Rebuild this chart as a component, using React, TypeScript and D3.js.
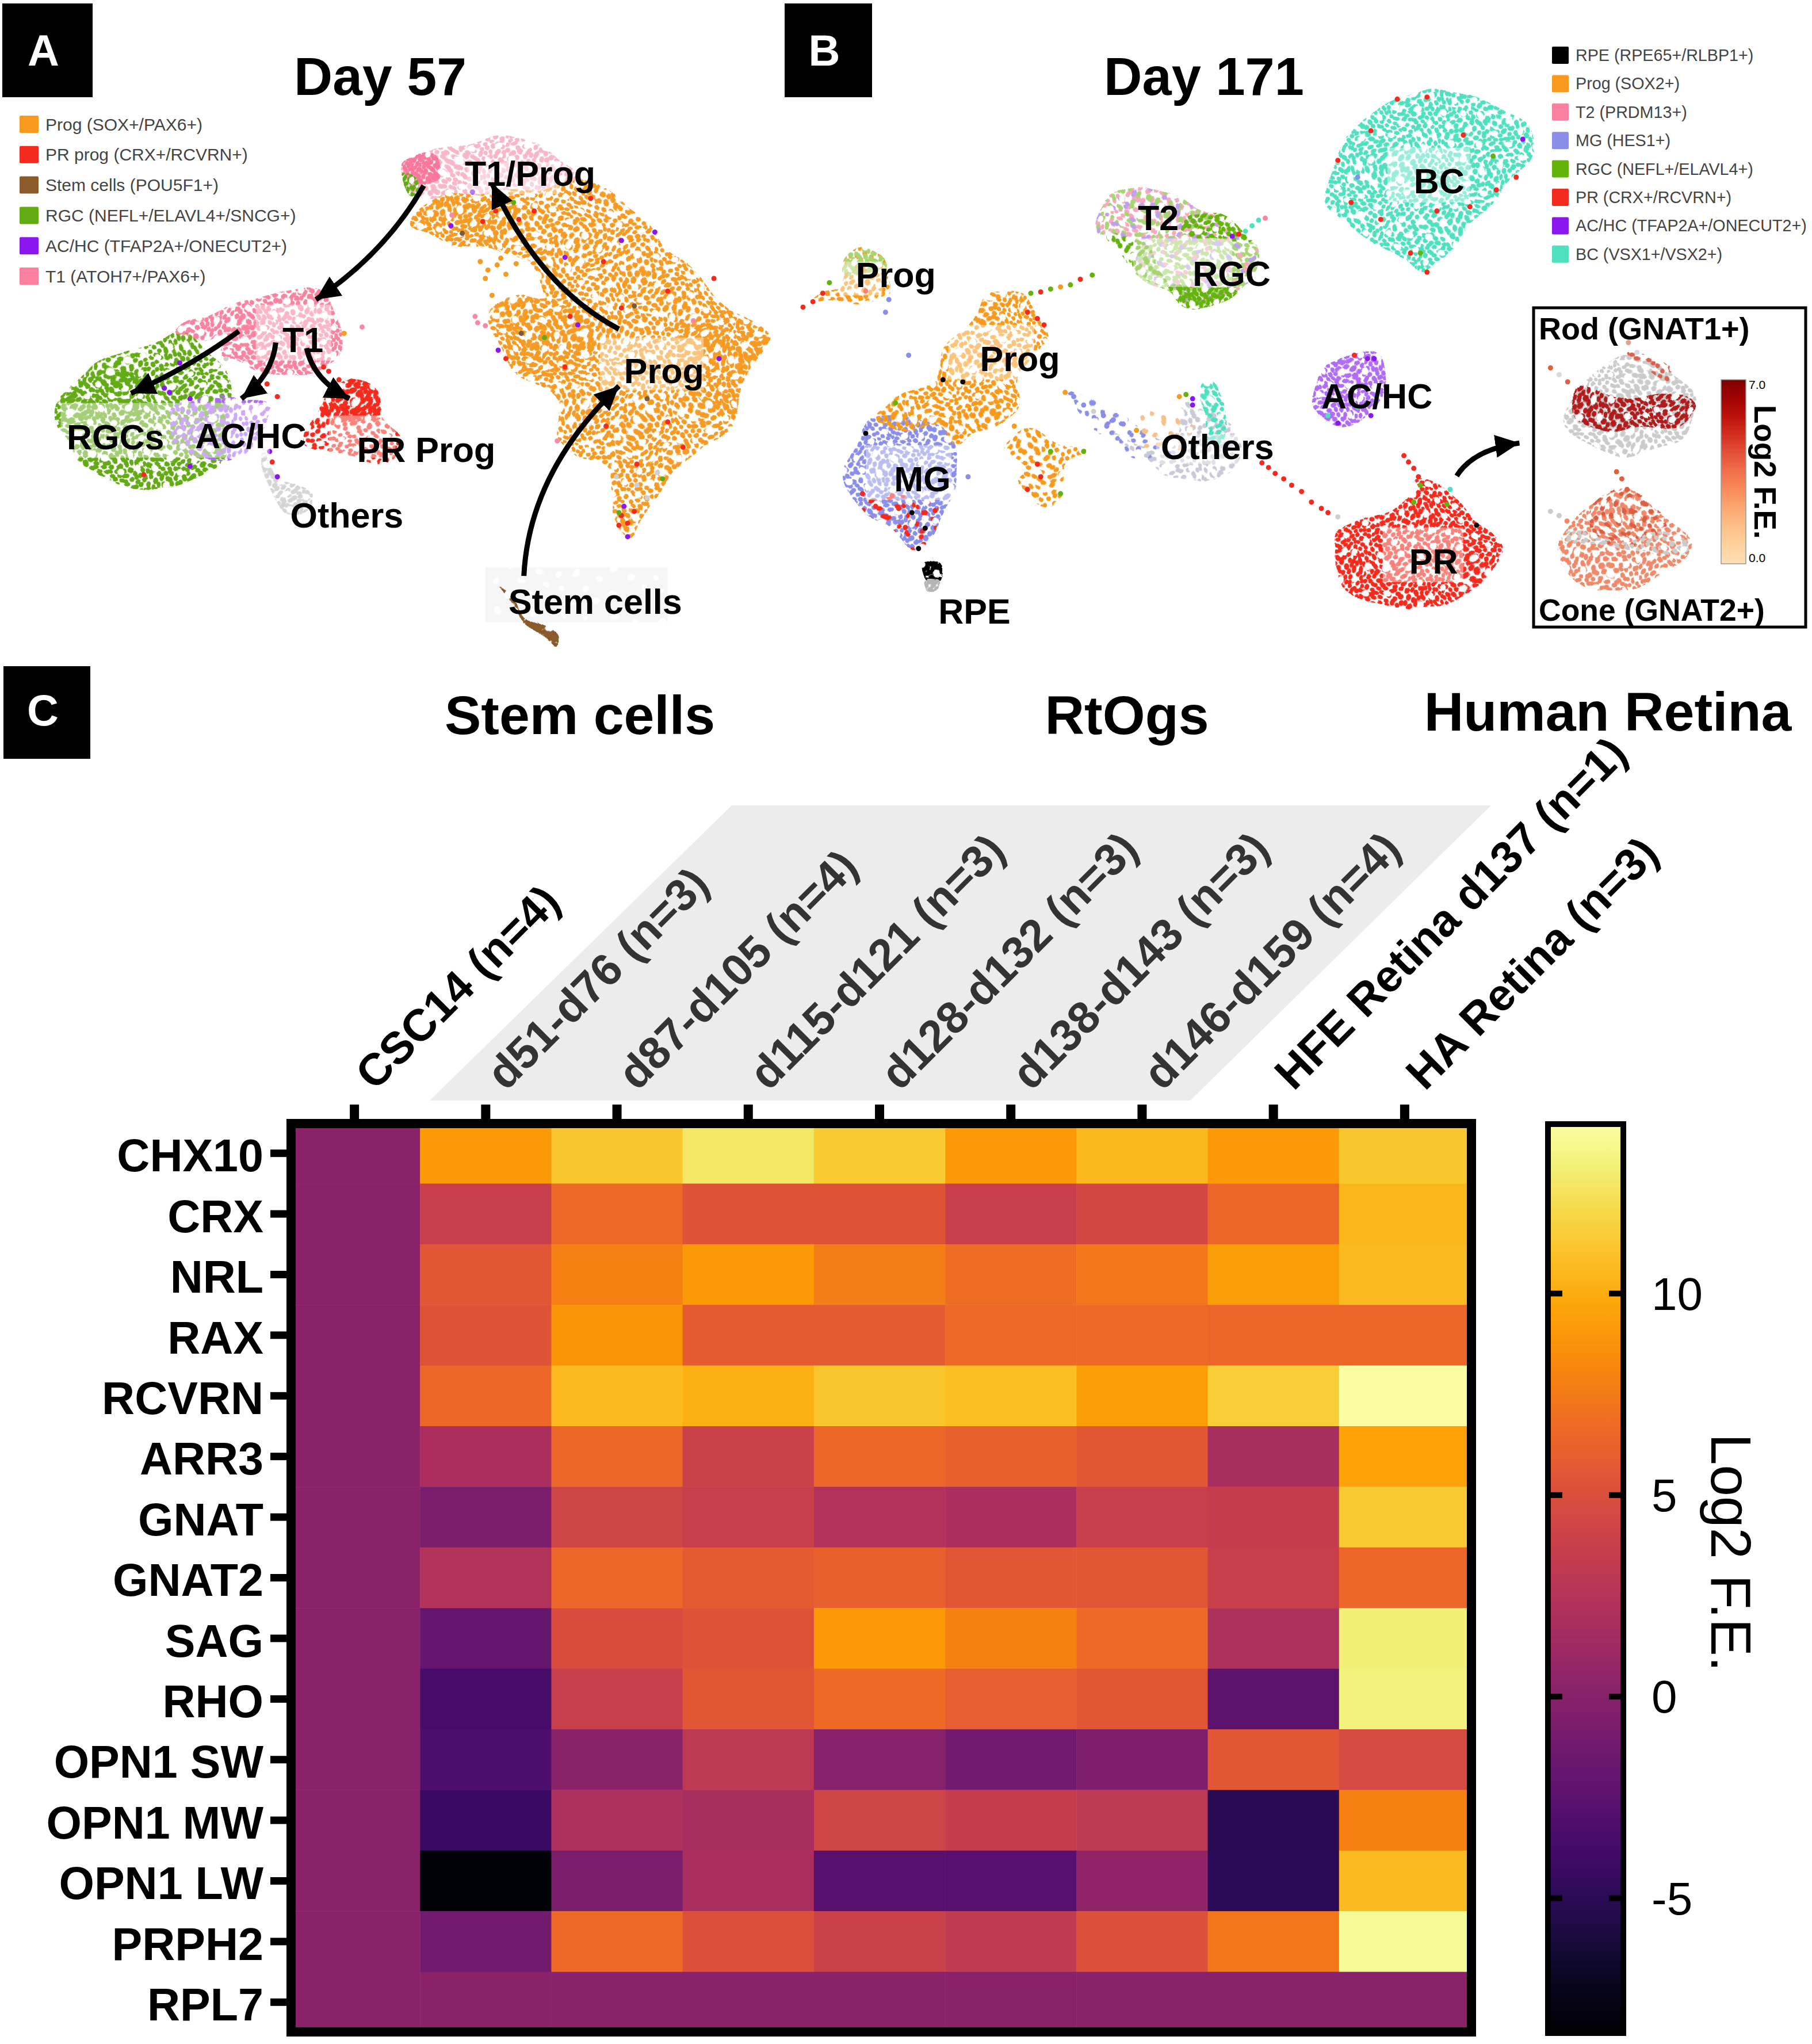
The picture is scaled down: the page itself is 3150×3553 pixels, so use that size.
import React, { useEffect, useRef } from 'react';
import * as d3 from 'd3';

type Pt = [number, number];

// heatmap values, Log2 F.E.
const samples = ['CSC14 (n=4)', 'd51-d76 (n=3)', 'd87-d105 (n=4)', 'd115-d121 (n=3)', 'd128-d132 (n=3)', 'd138-d143 (n=3)', 'd146-d159 (n=4)', 'HFE Retina d137 (n=1)', 'HA Retina (n=3)'];
const genes = ['CHX10', 'CRX', 'NRL', 'RAX', 'RCVRN', 'ARR3', 'GNAT', 'GNAT2', 'SAG', 'RHO', 'OPN1 SW', 'OPN1 MW', 'OPN1 LW', 'PRPH2', 'RPL7'];
const chx10 = [0, 9.0, 11.0, 12.6, 11.2, 9.0, 10.4, 9.0, 11.0];
const crx = [0, 3.6, 6.5, 5.1, 5.1, 3.6, 4.3, 6.3, 10.3];
const nrl = [0, 5.4, 7.8, 9.0, 7.6, 6.7, 7.2, 9.2, 10.5];
const rax = [0, 5.1, 8.7, 5.6, 5.6, 6.5, 6.5, 6.3, 6.3];
const rcvrn = [0, 6.3, 10.5, 10.1, 11.0, 10.7, 9.2, 11.4, 14.0];
const arr3 = [0, 1.8, 6.3, 3.8, 6.3, 6.0, 5.4, 1.6, 9.4];
const gnat = [0, -0.9, 4.0, 3.6, 2.2, 1.8, 3.6, 3.3, 11.2];
const gnat2 = [0, 2.2, 6.3, 5.6, 6.0, 5.4, 5.4, 3.6, 6.3];
const sag = [0, -2.2, 4.7, 5.1, 9.0, 7.8, 6.5, 2.0, 13.0];
const rho = [0, -3.8, 3.6, 5.4, 6.5, 5.8, 5.4, -2.5, 13.2];
const opn1sw = [0, -3.4, 0.0, 2.9, -0.2, -1.4, -0.7, 5.4, 4.5];
const opn1mw = [0, -4.5, 2.0, 1.6, 4.0, 3.3, 2.9, -5.4, 7.8];
const opn1lw = [0, -8.3, -0.9, 1.8, -2.9, -2.9, 0.2, -5.2, 10.5];
const prph2 = [0, -1.4, 6.5, 4.9, 3.8, 3.1, 4.9, 7.2, 13.7];
const rpl7 = [0, 0, 0, 0, 0, 0, 0, 0, 0];
const heat = [chx10, crx, nrl, rax, rcvrn, arr3, gnat, gnat2, sag, rho, opn1sw, opn1mw, opn1lw, prph2, rpl7];
const colorTicks = [-5, 0, 5, 10];

const legendA = ['Prog (SOX+/PAX6+)', 'PR prog (CRX+/RCVRN+)', 'Stem cells (POU5F1+)', 'RGC (NEFL+/ELAVL4+/SNCG+)', 'AC/HC (TFAP2A+/ONECUT2+)', 'T1 (ATOH7+/PAX6+)'];
const legendB = ['RPE (RPE65+/RLBP1+)', 'Prog (SOX2+)', 'T2 (PRDM13+)', 'MG (HES1+)', 'RGC (NEFL+/ELAVL4+)', 'PR (CRX+/RCVRN+)', 'AC/HC (TFAP2A+/ONECUT2+)', 'BC (VSX1+/VSX2+)'];
const legendAColors = ['#f79a1e', '#f42a1e', '#8b5a2b', '#63ab12', '#8a16f0', '#fb7f9f'];
const legendBColors = ['#000000', '#f79a1e', '#fb7f9f', '#8a8ee8', '#63b30a', '#f42a1e', '#8a16f0', '#4fe0c0'];

// cluster outlines on the two UMAPs (estimated by eye, in umap axis units)
const progOutlineA: Pt[] = [[795, 530], [830, 480], [900, 455], [1050, 445], [1150, 425], [1230, 500], [1300, 590], [1370, 660], [1430, 740], [1498, 800], [1460, 860], [1440, 960], [1400, 1040], [1340, 1085], [1290, 1160], [1240, 1240], [1220, 1270], [1195, 1230], [1185, 1110], [1120, 1080], [1080, 1040], [1080, 960], [1020, 900], [965, 820], [960, 730], [1010, 705], [1060, 700], [1040, 640], [1000, 600], [960, 590], [890, 585], [840, 560]];
const progDenseUpperA: Pt[] = [[795, 530], [840, 480], [960, 460], [1010, 500], [990, 550], [930, 590], [850, 560]];
const progDenseLowerA: Pt[] = [[965, 790], [985, 730], [1060, 705], [1130, 760], [1160, 830], [1100, 900], [1020, 880]];
const progDenseRightA: Pt[] = [[1330, 760], [1420, 730], [1495, 800], [1450, 880], [1430, 980], [1370, 960]];
const t1CapA: Pt[] = [[778, 385], [830, 368], [900, 345], [980, 322], [1040, 345], [1090, 385], [1140, 425], [1050, 445], [900, 455], [830, 470], [790, 445]];
const t1DenseA: Pt[] = [[778, 385], [830, 365], [860, 380], [855, 430], [820, 440], [790, 420]];
const rgcCapA: Pt[] = [[780, 410], [815, 425], [820, 455], [800, 465], [785, 440]];
const t1A: Pt[] = [[345, 795], [400, 750], [490, 715], [590, 685], [640, 700], [668, 790], [660, 850], [590, 880], [530, 890], [470, 860], [440, 840], [450, 790], [400, 805]];
const rgcA: Pt[] = [[120, 940], [170, 880], [260, 830], [340, 795], [400, 815], [440, 880], [435, 1000], [430, 1090], [380, 1140], [290, 1160], [200, 1130], [140, 1060], [115, 990]];
const rgcDenseA: Pt[] = [[120, 940], [170, 890], [250, 880], [310, 940], [300, 990], [120, 990]];
const rgcBottomA: Pt[] = [[140, 1060], [340, 1070], [425, 1095], [380, 1140], [290, 1160], [200, 1130]];
const acA: Pt[] = [[335, 960], [450, 950], [525, 960], [505, 1040], [470, 1080], [400, 1085], [340, 1050]];
const prTopA: Pt[] = [[620, 970], [680, 905], [720, 925], [745, 985], [640, 985]];
const prA: Pt[] = [[620, 970], [680, 905], [720, 925], [745, 980], [780, 1030], [770, 1085], [700, 1090], [640, 1070], [598, 1040]];
const othersA: Pt[] = [[510, 1060], [540, 1130], [605, 1170], [600, 1210], [560, 1218], [540, 1180], [515, 1110]];
const stemA: Pt[] = [[977, 1395], [1000, 1418], [1025, 1462], [1055, 1484], [1080, 1505], [1080, 1530], [1060, 1510], [1030, 1480], [1005, 1440]];

const bcB: Pt[] = [[830, 450], [850, 350], [900, 270], [950, 225], [1040, 215], [1100, 260], [1145, 310], [1130, 400], [1090, 470], [1040, 550], [985, 650], [950, 620], [880, 550], [830, 490]];
const t2B: Pt[] = [[480, 550], [495, 480], [520, 445], [600, 470], [660, 510], [690, 550], [660, 590], [560, 570]];
const rgcLightB: Pt[] = [[560, 570], [690, 555], [722, 575], [720, 640], [690, 700], [630, 720], [590, 700], [550, 640]];
const rgcDarkB: Pt[] = [[590, 690], [700, 690], [690, 712], [630, 728], [600, 712]];
const rgcDarkTopB: Pt[] = [[625, 510], [670, 510], [715, 560], [640, 570], [615, 545]];
const rgcDarkSideB: Pt[] = [[500, 565], [560, 575], [590, 690], [560, 660], [530, 610]];
const progSmallB: Pt[] = [[95, 610], [125, 585], [160, 605], [165, 650], [172, 705], [140, 715], [90, 712], [60, 720], [75, 690], [100, 670]];
const progSmallTopB: Pt[] = [[95, 610], [125, 585], [160, 605], [162, 640], [100, 640]];
const progBigB: Pt[] = [[320, 695], [350, 685], [385, 700], [405, 760], [415, 800], [370, 880], [365, 960], [350, 990], [300, 1020], [270, 1055], [250, 1010], [180, 1010], [150, 985], [230, 900], [260, 820], [300, 750]];
const progLobeB: Pt[] = [[345, 1060], [390, 1020], [430, 1050], [475, 1075], [430, 1100], [430, 1180], [400, 1192], [370, 1150], [382, 1110]];
const mgB: Pt[] = [[150, 985], [250, 1010], [270, 1060], [260, 1200], [240, 1262], [210, 1300], [170, 1250], [120, 1190], [100, 1130], [120, 1050]];
const mgBottomB: Pt[] = [[125, 1190], [245, 1190], [240, 1262], [210, 1300], [170, 1250]];
const rpeB: Pt[] = [[222, 1330], [250, 1338], [248, 1372], [228, 1370]];
const rpeGreyB: Pt[] = [[226, 1370], [245, 1372], [242, 1395], [230, 1395]];
const othersChainB: Pt[] = [[440, 930], [470, 940], [560, 1020], [595, 1060], [560, 1095], [500, 1040]];
const othersBodyB: Pt[] = [[510, 1030], [590, 1060], [620, 960], [680, 1000], [700, 1095], [650, 1138], [590, 1130], [560, 1090]];
const othersTopB: Pt[] = [[545, 985], [610, 980], [640, 1040], [560, 1060]];
const othersTealB: Pt[] = [[650, 912], [670, 912], [672, 1060], [655, 1050]];
const prB: Pt[] = [[850, 1250], [920, 1210], [970, 1170], [965, 1140], [1020, 1160], [1060, 1230], [1100, 1305], [1060, 1390], [1000, 1440], [900, 1430], [850, 1370], [845, 1300]];
const acB: Pt[] = [[810, 950], [830, 870], [870, 840], [915, 850], [920, 960], [880, 1000], [840, 1010]];

// feature plots inside the inset box
const rodBodyB: Pt[] = [[1200, 950], [1250, 870], [1290, 840], [1340, 870], [1392, 960], [1370, 1040], [1290, 1075], [1220, 1050], [1195, 1000]];
const rodBandB: Pt[] = [[1205, 925], [1280, 950], [1340, 925], [1392, 965], [1380, 995], [1290, 1020], [1210, 985]];
const rodTipB: Pt[] = [[1295, 835], [1315, 835], [1360, 885], [1345, 900]];
const coneBodyB: Pt[] = [[1190, 1270], [1230, 1200], [1290, 1165], [1340, 1210], [1385, 1295], [1340, 1370], [1270, 1402], [1210, 1380], [1185, 1320]];
const coneDarkB: Pt[] = [[1240, 1190], [1290, 1165], [1345, 1215], [1350, 1270], [1280, 1300], [1240, 1280]];
const coneGreyB: Pt[] = [[1190, 1265], [1280, 1280], [1350, 1260], [1385, 1295], [1360, 1320], [1270, 1300], [1195, 1290]];

type Layer = { pts: Pt[]; color: string; f?: number };
const layersA: Layer[] = [
  { pts: progOutlineA, color: '#f59a23', f: 1.0 },
  { pts: progDenseUpperA, color: '#f59a23', f: 1.3 },
  { pts: progDenseLowerA, color: '#f59a23', f: 1.3 },
  { pts: progDenseRightA, color: '#f59a23', f: 1.3 },
  { pts: t1CapA, color: '#f8b6c9', f: 0.95 },
  { pts: t1DenseA, color: '#f9779c', f: 0.75 },
  { pts: rgcCapA, color: '#63ab12', f: 0.8 },
  { pts: rgcA, color: '#63ab12', f: 1.0 },
  { pts: rgcDenseA, color: '#63ab12', f: 1.2 },
  { pts: rgcBottomA, color: '#63ab12', f: 1.0 },
  { pts: acA, color: '#a96cf2', f: 1.1 },
  { pts: t1A, color: '#f9829f', f: 0.9 },
  { pts: prTopA, color: '#f42a1e', f: 0.9 },
  { pts: prA, color: '#f42a1e', f: 1.1 },
  { pts: othersA, color: '#d5d5d5', f: 0.85 },
  { pts: stemA, color: '#8b5a2b', f: 0.6 },
];
const layersB: Layer[] = [
  { pts: bcB, color: '#4fe0c0', f: 0.95 },
  { pts: t2B, color: '#f8a8bd', f: 1.2 },
  { pts: t2B, color: '#a6d672', f: 1.6 },
  { pts: t2B, color: '#bfa0f0', f: 2.2 },
  { pts: rgcLightB, color: '#a6d672', f: 1.0 },
  { pts: rgcLightB, color: '#bfa0f0', f: 2.4 },
  { pts: rgcLightB, color: '#f8a8bd', f: 2.6 },
  { pts: rgcDarkB, color: '#63b30a', f: 0.8 },
  { pts: rgcDarkTopB, color: '#63b30a', f: 1.0 },
  { pts: rgcDarkSideB, color: '#63b30a', f: 1.2 },
  { pts: progSmallB, color: '#f79a1e', f: 1.1 },
  { pts: progSmallTopB, color: '#a6d672', f: 0.9 },
  { pts: mgB, color: '#8a8ee8', f: 0.95 },
  { pts: mgBottomB, color: '#f42a1e', f: 2.0 },
  { pts: progBigB, color: '#f79a1e', f: 1.0 },
  { pts: progLobeB, color: '#f79a1e', f: 1.2 },
  { pts: rpeB, color: '#000000', f: 0.6 },
  { pts: rpeGreyB, color: '#b5b5b5', f: 0.7 },
  { pts: othersChainB, color: '#8a8ee8', f: 1.8 },
  { pts: othersBodyB, color: '#c9c9d8', f: 1.2 },
  { pts: othersTopB, color: '#f7c08a', f: 2.0 },
  { pts: othersTealB, color: '#4fe0c0', f: 1.0 },
  { pts: prB, color: '#f42a1e', f: 0.9 },
  { pts: acB, color: '#b06cf5', f: 0.9 },
];
const layersInset: Layer[] = [
  { pts: rodBodyB, color: '#cbcbcb', f: 1.0 },
  { pts: rodBandB, color: '#b01c1c', f: 0.9 },
  { pts: rodTipB, color: '#d9624a', f: 1.4 },
  { pts: coneBodyB, color: '#ee8a6a', f: 1.0 },
  { pts: coneDarkB, color: '#dd5f42', f: 1.6 },
  { pts: coneGreyB, color: '#cbcbcb', f: 1.2 },
];

// individual cells of other classes that can be picked out by eye
const strayA: [number, number, string][] = [
  [878, 535, '#8a16f0'], [900, 553, '#7a5a3a'], [940, 525, '#f42a1e'], [965, 500, '#f42a1e'], [1010, 520, '#f42a1e'], [1100, 610, '#8a16f0'], [1210, 570, '#8a16f0'], [1275, 550, '#8a16f0'], [1175, 620, '#f42a1e'], [1300, 690, '#f42a1e'],
  [1390, 660, '#f42a1e'], [1350, 760, '#f98aa6'], [1125, 770, '#8a16f0'], [1110, 750, '#f42a1e'], [1015, 790, '#7a5a3a'], [1060, 800, '#63ab12'], [970, 830, '#8a16f0'], [985, 850, '#f42a1e'], [1100, 870, '#f42a1e'], [1235, 725, '#7a5a3a'],
  [1210, 730, '#f42a1e'], [1300, 1000, '#f42a1e'], [1400, 850, '#8a16f0'], [1180, 1010, '#f42a1e'], [1260, 945, '#7a5a3a'], [1330, 1060, '#f42a1e'], [1290, 1135, '#63ab12'], [1240, 1100, '#f42a1e'], [1085, 1045, '#f98aa6'], [1215, 1200, '#8a16f0'],
  [1210, 1222, '#f42a1e'], [1222, 1240, '#f42a1e'], [1235, 1212, '#f42a1e'], [1205, 1245, '#f42a1e'], [1222, 1272, '#8a16f0'], [1205, 1215, '#63ab12'], [1200, 1130, '#cfcfcf'], [1240, 1150, '#cfcfcf'], [1280, 1120, '#cfcfcf'], [1260, 1180, '#cfcfcf'],
  [930, 765, '#f98aa6'], [945, 772, '#f98aa6'], [925, 750, '#f98aa6'], [705, 775, '#f98aa6'], [670, 790, '#f59a23'], [920, 455, '#8a16f0'], [1000, 480, '#63ab12'], [880, 510, '#f98aa6'], [1040, 500, '#f42a1e'], [1150, 470, '#f42a1e'],
  [350, 860, '#8a16f0'], [370, 945, '#8a16f0'], [330, 930, '#8a16f0'], [320, 920, '#8a16f0'], [280, 1125, '#f42a1e'], [370, 1105, '#8a16f0'], [530, 1095, '#f42a1e'], [540, 1130, '#8a16f0'], [525, 1070, '#8a16f0'], [440, 850, '#cfcfcf'],
  [520, 910, '#f42a1e'], [540, 940, '#f42a1e'], [500, 930, '#f59a23'], [640, 880, '#f42a1e'], [630, 870, '#f42a1e'], [660, 900, '#f42a1e'],
  [935, 620, '#f59a23'], [950, 640, '#f59a23'], [975, 612, '#f59a23'], [958, 700, '#f59a23'], [945, 660, '#f59a23'], [968, 628, '#f59a23'], [1005, 625, '#f59a23'], [985, 650, '#f59a23'],
];
const strayB: [number, number, string][] = [
  [385, 695, '#63b30a'], [400, 692, '#f42a1e'], [415, 685, '#63b30a'], [430, 680, '#f79a1e'], [445, 675, '#63b30a'], [460, 662, '#f42a1e'], [478, 652, '#63b30a'],
  [740, 517, '#f9829f'], [730, 522, '#4fe0c0'], [720, 535, '#4fe0c0'], [710, 548, '#4fe0c0'], [700, 555, '#f42a1e'], [690, 560, '#8a16f0'],
  [40, 728, '#f42a1e'], [55, 715, '#f42a1e'], [70, 695, '#f42a1e'], [80, 670, '#63b30a'], [165, 740, '#8a8ee8'], [170, 710, '#8a8ee8'], [135, 690, '#f42a1e'],
  [200, 842, '#8a8ee8'], [252, 900, '#000000'], [282, 905, '#000000'], [135, 1027, '#000000'], [180, 955, '#63b30a'], [405, 770, '#f42a1e'], [395, 755, '#f42a1e'], [380, 740, '#f42a1e'],
  [360, 1010, '#f79a1e'], [290, 1130, '#8a8ee8'], [205, 1215, '#000000'], [225, 1252, '#000000'], [185, 1205, '#f42a1e'], [165, 1225, '#f42a1e'], [195, 1250, '#f42a1e'], [240, 1210, '#f42a1e'], [215, 1300, '#000000'], [205, 1275, '#8a8ee8'],
  [150, 1200, '#f42a1e'], [225, 1215, '#f42a1e'], [130, 1170, '#f42a1e'], [175, 1175, '#f42a1e'],
  [395, 1100, '#f42a1e'], [400, 1130, '#f42a1e'], [380, 1160, '#f42a1e'], [415, 1070, '#63b30a'], [465, 1070, '#63b30a'], [430, 1170, '#63b30a'],
  [437, 930, '#f79a1e'], [450, 940, '#8a8ee8'], [465, 960, '#8a8ee8'], [480, 975, '#cfcfcf'], [495, 985, '#8a8ee8'], [510, 995, '#8a8ee8'], [525, 1005, '#8a8ee8'], [500, 1010, '#8a8ee8'], [545, 1020, '#f79a1e'], [630, 945, '#8a16f0'], [630, 960, '#8a16f0'], [620, 935, '#63b30a'], [610, 940, '#f79a1e'],
  [735, 1097, '#f42a1e'], [745, 1108, '#f42a1e'], [755, 1122, '#f42a1e'], [768, 1135, '#f42a1e'], [780, 1150, '#f42a1e'], [795, 1165, '#f42a1e'], [810, 1190, '#f42a1e'], [825, 1205, '#f42a1e'], [835, 1215, '#f42a1e'], [850, 1225, '#cfcfcf'],
  [950, 1080, '#f42a1e'], [957, 1095, '#f42a1e'], [965, 1110, '#f42a1e'], [972, 1130, '#f42a1e'], [975, 1150, '#63b30a'], [965, 1190, '#63b30a'], [1020, 1160, '#4fe0c0'], [1060, 1245, '#000000'], [1015, 1195, '#63b30a'],
  [850, 380, '#f42a1e'], [880, 420, '#8a8ee8'], [1085, 370, '#63b30a'], [1130, 330, '#8a16f0'], [985, 645, '#f42a1e'], [960, 600, '#f42a1e'], [1000, 500, '#f42a1e'], [1050, 490, '#f42a1e'], [900, 310, '#f42a1e'], [940, 235, '#f42a1e'], [985, 230, '#f42a1e'], [1120, 420, '#f42a1e'], [1090, 450, '#f42a1e'], [975, 600, '#63b30a'], [1040, 320, '#f42a1e'], [870, 480, '#f42a1e'], [915, 520, '#f42a1e'],
  [875, 842, '#f42a1e'], [895, 850, '#8a16f0'], [905, 850, '#8a16f0'], [850, 1003, '#8a16f0'], [900, 985, '#8a16f0'], [850, 930, '#4fe0c0'], [835, 985, '#4fe0c0'], [880, 965, '#4fe0c0'],
  [1172, 872, '#e0603c'], [1185, 888, '#d9d9d9'], [1198, 905, '#d9624a'], [1290, 812, '#e8a090'], [1303, 835, '#d9d9d9'],
  [1172, 1212, '#cbcbcb'], [1185, 1222, '#cbcbcb'], [1197, 1235, '#ee8a6a'], [1272, 1118, '#e0603c'], [1280, 1135, '#e0603c'], [1288, 1160, '#e0603c'],
];

const arrowsA: [Pt, Pt, Pt][] = [
  [[825, 440], [750, 600], [615, 710]],
  [[1205, 780], [1050, 680], [958, 435]],
  [[465, 785], [370, 870], [255, 932]],
  [[537, 812], [530, 890], [470, 945]],
  [[597, 825], [610, 900], [680, 945]],
  [[1020, 1365], [1030, 1120], [1205, 915]],
];
const arrowsB: [Pt, Pt, Pt][] = [[[1030, 1128], [1055, 1065], [1125, 1050]]];

// white boxes behind the cluster names
const boxesA: [number, number, number, number][] = [[498, 722, 645, 855], [1168, 800, 1370, 925], [118, 955, 330, 1085], [330, 955, 525, 1085], [640, 985, 770, 1085], [910, 385, 1090, 460]];
const boxesB: [number, number, number, number][] = [[925, 350, 1050, 480], [260, 770, 390, 900], [135, 1055, 265, 1185], [918, 1250, 1040, 1380], [540, 565, 690, 680], [95, 620, 160, 700], [575, 1030, 700, 1100]];
const namesA: [string, number, number][] = [['T1/Prog', 905, 440], ['T1', 550, 835], ['Prog', 1215, 908], ['RGCs', 130, 1065], ['AC/HC', 380, 1062], ['PR Prog', 695, 1095], ['Others', 565, 1250], ['Stem cells', 990, 1455]];
const namesB: [string, number, number][] = [['BC', 965, 458], ['T2', 547, 545], ['RGC', 630, 678], ['Prog', 120, 680], ['Prog', 308, 880], ['AC/HC', 825, 968], ['Others', 582, 1088], ['MG', 178, 1165], ['PR', 958, 1360], ['RPE', 245, 1478]];

// irregular texture tile for the dense cell clouds, coordinates 0-100
const speckle: Pt[] = [[3, 7], [14, 2], [27, 9], [41, 4], [55, 11], [68, 3], [82, 8], [95, 14], [8, 19], [21, 22], [35, 17], [48, 24], [61, 20], [75, 16], [89, 25], [2, 33], [16, 36], [30, 30], [43, 38], [57, 33], [70, 29], [84, 37], [96, 42], [10, 47], [24, 44], [37, 51], [52, 46], [65, 43], [78, 50], [91, 55], [4, 60], [18, 58], [31, 65], [45, 59], [59, 56], [72, 63], [86, 68], [12, 73], [26, 78], [39, 72], [53, 69], [66, 76], [80, 81], [94, 74], [6, 86], [20, 91], [33, 85], [47, 82], [60, 90], [74, 93], [88, 95], [98, 87]];

const FONT = '"Liberation Sans", Arial, sans-serif';

export default function App() {
  const svgRef = useRef<SVGSVGElement>(null);

  useEffect(() => {
    const svg = d3.select(svgRef.current);
    svg.selectAll('*').remove();
    svg.style('font-family', FONT);
    const defs = svg.append('defs');

    const xA = d3.scaleLinear().domain([0, 1568]).range([0, 1400]);
    const yU = d3.scaleLinear().domain([0, 1568]).range([0, 1150]);
    const xB = d3.scaleLinear().domain([0, 1568]).range([1350, 3150]);

    // dot textures, one pair per colour and density
    const patternId = (color: string, f: number, k: number) => `sp${color.slice(1)}f${Math.round(f * 100)}k${k}`;
    const done = new Set<string>();
    [...layersA, ...layersB, ...layersInset].forEach(l => {
      const f = l.f ?? 1;
      if (done.has(patternId(l.color, f, 0))) return;
      done.add(patternId(l.color, f, 0));
      [0, 1].forEach(k => {
        const size = (k === 0 ? 80 : 113) * f;
        const p = defs.append('pattern')
          .attr('id', patternId(l.color, f, k))
          .attr('patternUnits', 'userSpaceOnUse')
          .attr('width', size)
          .attr('height', size)
          .attr('patternTransform', k === 0 ? 'rotate(11)' : 'rotate(37)');
        p.selectAll('circle').data(speckle).join('circle')
          .attr('cx', d => (d[0] / 100) * size)
          .attr('cy', d => (d[1] / 100) * size)
          .attr('r', 4.2)
          .attr('fill', l.color);
      });
    });
    const holes = defs.append('pattern').attr('id', 'holes').attr('patternUnits', 'userSpaceOnUse').attr('width', 230).attr('height', 230).attr('patternTransform', 'rotate(23)');
    holes.selectAll('circle').data(speckle).join('circle')
      .attr('cx', d => d[0] * 2.3).attr('cy', d => d[1] * 2.3).attr('r', 6).attr('fill', '#fff');

    // slow wobble so the point clouds do not show the tile grid or a hard outline
    const wobble = defs.append('filter').attr('id', 'wobble').attr('filterUnits', 'userSpaceOnUse')
      .attr('x', 0).attr('y', 0).attr('width', 3150).attr('height', 1200);
    wobble.append('feTurbulence').attr('type', 'fractalNoise').attr('baseFrequency', 0.014).attr('numOctaves', 1).attr('seed', 4).attr('result', 'n');
    wobble.append('feDisplacementMap').attr('in', 'SourceGraphic').attr('in2', 'n').attr('scale', 34).attr('xChannelSelector', 'R').attr('yChannelSelector', 'G');

    defs.append('marker').attr('id', 'head').attr('markerUnits', 'userSpaceOnUse')
      .attr('markerWidth', 46).attr('markerHeight', 46).attr('refX', 42).attr('refY', 23).attr('orient', 'auto')
      .append('path').attr('d', 'M0,3L42,23L0,43Z').attr('fill', '#000');

    const outline = d3.line().curve(d3.curveCatmullRomClosed.alpha(0.5));

    function drawUmap(xs: any, layers: Layer[], strays: [number, number, string][], boxes: any[], names: any[], arrows: [Pt, Pt, Pt][]) {
      const g = svg.append('g');
      const cloud = g.append('g').attr('filter', 'url(#wobble)');
      layers.forEach(l => {
        const d = outline(l.pts.map(p => [xs(p[0]), yU(p[1])] as Pt));
        [0, 1].forEach(k => cloud.append('path').attr('d', d).attr('fill', `url(#${patternId(l.color, l.f ?? 1, k)})`));
      });
      cloud.append('rect').attr('x', xs(0)).attr('y', 0).attr('width', xs(1568) - xs(0)).attr('height', 1150).attr('fill', 'url(#holes)');
      g.selectAll('circle.stray').data(strays).join('circle').attr('class', 'stray')
        .attr('cx', d => xs(d[0])).attr('cy', d => yU(d[1])).attr('r', 4.5).attr('fill', d => d[2]);
      g.selectAll('rect.box').data(boxes).join('rect').attr('class', 'box')
        .attr('x', d => xs(d[0])).attr('y', d => yU(d[1]))
        .attr('width', d => xs(d[2]) - xs(d[0])).attr('height', d => yU(d[3]) - yU(d[1]))
        .attr('fill', '#fff').attr('opacity', 0.42);
      arrows.forEach(a => {
        const p = d3.path();
        p.moveTo(xs(a[0][0]), yU(a[0][1]));
        p.quadraticCurveTo(xs(a[1][0]), yU(a[1][1]), xs(a[2][0]), yU(a[2][1]));
        g.append('path').attr('d', p.toString()).attr('fill', 'none').attr('stroke', '#000').attr('stroke-width', 9).attr('marker-end', 'url(#head)');
      });
      g.selectAll('text.name').data(names).join('text').attr('class', 'name')
        .attr('x', d => xs(d[1])).attr('y', d => yU(d[2]))
        .attr('font-size', 61).attr('font-weight', 700).attr('fill', '#000').text(d => d[0]);
    }

    // stem cell backdrop goes under the stem cell points
    svg.append('rect').attr('x', xA(945)).attr('y', yU(1345)).attr('width', xA(1300) - xA(945)).attr('height', yU(1475) - yU(1345)).attr('fill', '#f6f6f6');
    drawUmap(xA, layersA, strayA, boxesA, namesA, arrowsA);
    drawUmap(xB, [...layersB, ...layersInset], strayB, boxesB, namesB, arrowsB);

    // panel letters
    const panels: [string, number, number, number, number, number][] = [['A', 4, 6, 157, 163, 114], ['B', 1364, 6, 152, 163, 114], ['C', 6, 1158, 151, 161, 1261]];
    panels.forEach(([t, x, y, w, h, base]) => {
      svg.append('rect').attr('x', x).attr('y', y).attr('width', w).attr('height', h).attr('fill', '#000');
      svg.append('text').attr('x', x + w / 2 - 7).attr('y', base).attr('text-anchor', 'middle').attr('font-size', 76).attr('font-weight', 700).attr('fill', '#fff').text(t);
    });

    const title = (t: string, x: number, y: number, size: number) =>
      svg.append('text').attr('x', x).attr('y', y).attr('text-anchor', 'middle').attr('font-size', size).attr('font-weight', 700).attr('fill', '#000').text(t);
    title('Day 57', 661, 165, 93);
    title('Day 171', 2093, 165, 92);
    title('Stem cells', 1008, 1276, 95);
    title('RtOgs', 1959, 1276, 95);
    title('Human Retina', 2795, 1270, 95);

    // legends
    function legend(items: string[], colors: string[], x: number, w: number, tx: number, y0: number, step: number, size: number) {
      const g = svg.append('g');
      items.forEach((t, i) => {
        const y = y0 + i * step;
        g.append('rect').attr('x', x).attr('y', y - 15).attr('width', w).attr('height', 30).attr('rx', 2).attr('fill', colors[i]);
        g.append('text').attr('x', tx).attr('y', y + size * 0.35).attr('font-size', size).attr('fill', '#444').text(t);
      });
    }
    legend(legendA, legendAColors, 34, 33, 79, 216, 52.8, 30);
    legend(legendB, legendBColors, 2698, 29, 2739, 96, 49.4, 28.7);

    // inset box
    svg.append('rect').attr('x', 2666).attr('y', 535).attr('width', 473).attr('height', 555).attr('fill', 'none').attr('stroke', '#000').attr('stroke-width', 5);
    svg.append('text').attr('x', 2675).attr('y', 590).attr('font-size', 54).attr('font-weight', 700).text('Rod (GNAT1+)');
    svg.append('text').attr('x', 2675).attr('y', 1079).attr('font-size', 53.5).attr('font-weight', 700).text('Cone (GNAT2+)');
    const miniGrad = defs.append('linearGradient').attr('id', 'mini').attr('x1', 0).attr('x2', 0).attr('y1', 1).attr('y2', 0);
    d3.range(0, 1.01, 0.1).forEach(t => miniGrad.append('stop').attr('offset', t).attr('stop-color', d3.interpolateOrRd(0.18 + t * 0.82)));
    svg.append('rect').attr('x', 2992).attr('y', 660).attr('width', 43).attr('height', 320).attr('fill', 'url(#mini)').attr('stroke', '#999').attr('stroke-width', 1.5);
    svg.append('text').attr('x', 3040).attr('y', 676).attr('font-size', 21).text('7.0');
    svg.append('text').attr('x', 3040).attr('y', 977).attr('font-size', 21).text('0.0');
    svg.append('text').attr('transform', 'translate(3050,704) rotate(90)').attr('font-size', 53).attr('font-weight', 700).text('Log2 F.E.');

    // heatmap
    const x = d3.scaleBand().domain(samples).range([502, 2556]);
    const y = d3.scaleBand().domain(genes).range([1952, 3533]);
    const color = d3.scaleSequential(d3.interpolateInferno).domain([-8.6, 14.1]);

    svg.append('path').attr('d', d3.line()([[1272, 1400], [2592, 1400], [2069, 1913], [747, 1913]]) + 'Z').attr('fill', '#ececec');

    const cells = genes.flatMap((g, r) => samples.map((s, c) => ({ g, s, v: heat[r][c] })));
    svg.append('g').selectAll('rect').data(cells).join('rect')
      .attr('x', d => x(d.s)!).attr('y', d => y(d.g)!)
      .attr('width', x.bandwidth() + 0.5).attr('height', y.bandwidth() + 0.5)
      .attr('fill', d => color(d.v));
    svg.append('rect').attr('x', 506).attr('y', 1953).attr('width', 2052).attr('height', 1579).attr('fill', 'none').attr('stroke', '#000').attr('stroke-width', 16);

    const leftAxis = svg.append('g').attr('transform', 'translate(498,0)')
      .call(d3.axisLeft(y).tickSize(28).tickSizeOuter(0).tickPadding(12));
    leftAxis.select('.domain').remove();
    leftAxis.selectAll('line').attr('stroke', '#000').attr('stroke-width', 13);
    leftAxis.selectAll('text').attr('font-size', 79).attr('font-weight', 700).attr('font-family', FONT).attr('fill', '#000').attr('dy', '0.4em');

    const topAxis = svg.append('g').attr('transform', 'translate(0,1946)')
      .call(d3.axisTop(x).tickSize(26).tickSizeOuter(0));
    topAxis.select('.domain').remove();
    topAxis.selectAll('line').attr('stroke', '#000').attr('stroke-width', 16);
    topAxis.selectAll('text')
      .attr('font-size', 78).attr('font-weight', 700).attr('font-family', FONT)
      .attr('text-anchor', 'start').attr('y', null).attr('dy', null)
      .attr('transform', 'translate(35,-48) rotate(-45)')
      .attr('fill', (d: any) => (d.startsWith('d') ? '#333' : '#000'));

    // colour bar
    const yC = d3.scaleLinear().domain([-5, 10]).range([3299, 2248]);
    const grad = defs.append('linearGradient').attr('id', 'bar').attr('x1', 0).attr('x2', 0).attr('y1', 1).attr('y2', 0);
    d3.range(0, 1.001, 0.05).forEach(t => grad.append('stop').attr('offset', t).attr('stop-color', d3.interpolateInferno(t)));
    svg.append('rect').attr('x', 2691).attr('y', 1954).attr('width', 131).attr('height', 1580).attr('fill', 'url(#bar)').attr('stroke', '#000').attr('stroke-width', 10);
    const rightAxis = svg.append('g').attr('transform', 'translate(2822,0)')
      .call(d3.axisRight(yC).tickValues(colorTicks).tickSize(-25).tickSizeOuter(0).tickPadding(49).tickFormat((d: any) => String(d)));
    rightAxis.select('.domain').remove();
    rightAxis.selectAll('line').attr('stroke', '#000').attr('stroke-width', 10);
    rightAxis.selectAll('text').attr('font-size', 80).attr('font-family', FONT).attr('fill', '#000').attr('dy', '0.35em');
    const leftBarAxis = svg.append('g').attr('transform', 'translate(2691,0)')
      .call(d3.axisLeft(yC).tickValues(colorTicks).tickSize(-25).tickSizeOuter(0).tickFormat(() => ''));
    leftBarAxis.select('.domain').remove();
    leftBarAxis.selectAll('line').attr('stroke', '#000').attr('stroke-width', 10);
    svg.append('text').attr('transform', 'translate(2975,2492) rotate(90)').attr('font-size', 98).attr('fill', '#000').text('Log2 F.E.');
  }, []);

  return (
    <div>
      <svg ref={svgRef} width={3150} height={3553} style={{ position: 'absolute', left: 0, top: 0, background: '#fff' }}></svg>
    </div>
  );
}
